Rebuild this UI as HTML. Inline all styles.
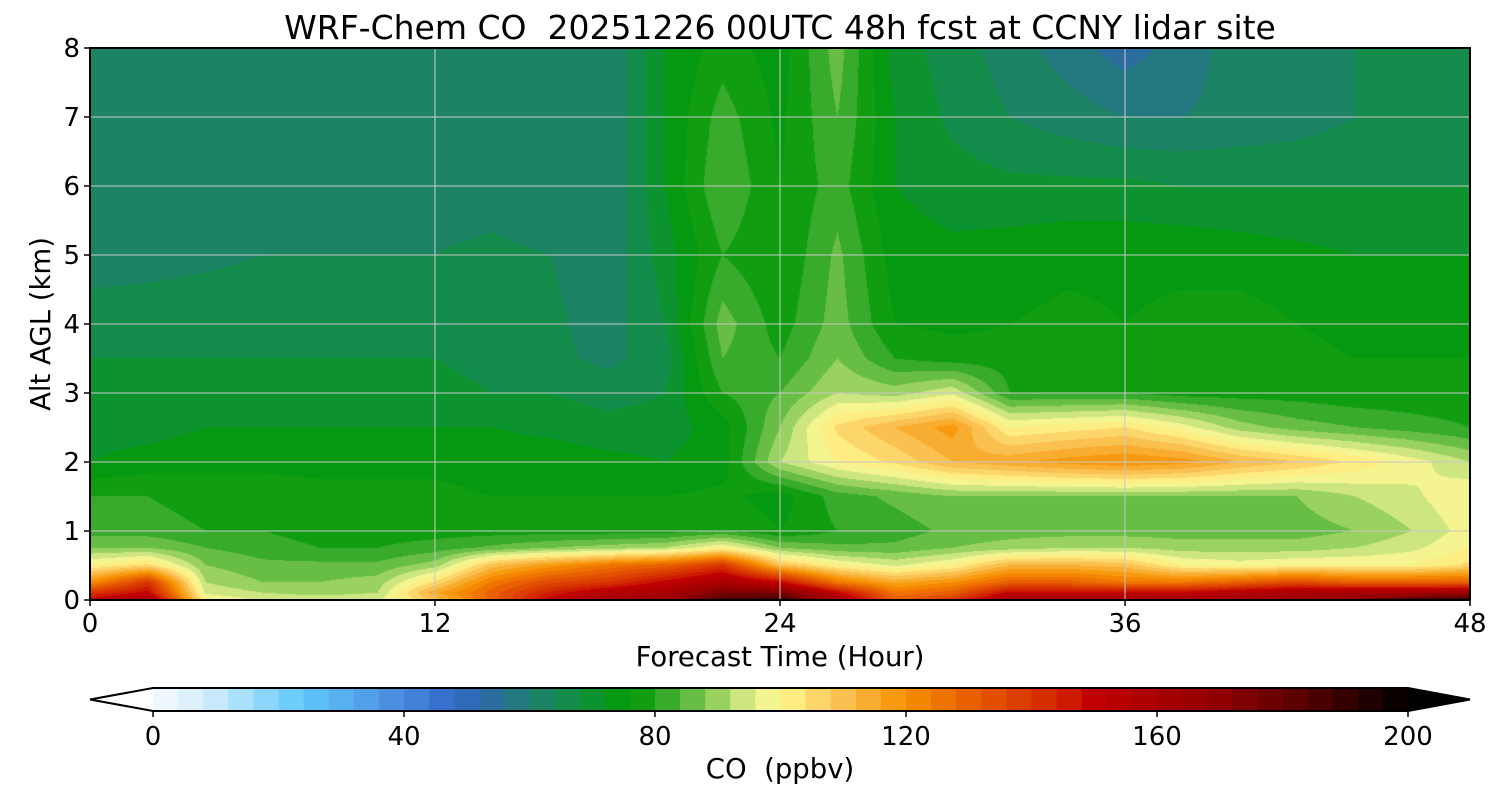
<!DOCTYPE html>
<html><head><meta charset="utf-8"><style>
body{margin:0;background:#fff;width:1500px;height:800px;overflow:hidden;font-family:"DejaVu Sans","Liberation Sans",sans-serif;}
.t{position:absolute;color:#000;white-space:nowrap;}
svg text{font-family:"DejaVu Sans","Liberation Sans",sans-serif;}
</style></head><body>
<div class="t" style="left:0;width:1560px;text-align:center;top:8px;font-size:33px;">WRF-Chem CO&nbsp; 20251226 00UTC 48h fcst at CCNY lidar site</div>
<canvas id="cv" width="1380" height="552" style="position:absolute;left:90px;top:48px;"></canvas>
<svg id="sv" width="1500" height="800" style="position:absolute;left:0;top:0;"></svg>
<script>
const hours=[0,2,4,6,8,10,12,14,16,18,20,22,24,26,28,30,32,34,36,38,40,42,44,46,48];
const heights=[0,0.1,0.25,0.5,0.75,1,1.5,2,2.5,3,3.5,4,5,6,7,8];
const co=[
[150,160,100,95,95,95,110,130,150,160,165,185,190,160,130,140,160,160,160,160,160,165,170,185,190],
[140,150,95,92,90,92,115,130,145,155,160,175,175,150,125,130,150,150,150,150,155,160,160,160,165],
[120,140,92,88,88,90,105,125,135,140,150,160,150,125,115,120,130,130,125,125,130,135,130,130,130],
[100,105,88,85,85,85,90,110,118,125,130,140,110,100,95,100,112,112,110,100,98,100,100,100,105],
[88,88,84,82,80,80,82,85,88,90,92,100,88,85,85,88,90,92,92,90,90,90,92,95,100],
[82,82,80,80,78,78,78,78,78,78,78,80,76,80,82,85,86,86,86,86,86,86,88,92,98],
[80,80,78,78,77,77,77,76,76,76,76,77,74,82,85,88,88,88,88,88,88,88,92,95,100],
[72,74,75,75,75,75,75,74,74,73,72,74,92,100,105,112,115,118,120,118,112,108,103,98,92],
[70,70,72,72,72,72,72,72,71,70,70,74,88,105,112,118,100,102,104,98,90,86,84,82,80],
[69,69,69,69,69,69,69,68,68,66,68,80,84,92,90,95,80,80,80,78,78,78,77,77,77],
[68,68,68,68,68,68,68,67,65,63,66,84,80,88,80,78,78,77,77,77,77,77,76,76,76],
[66,67,67,67,67,67,67,66,65,62,68,86,78,86,76,75,76,77,76,77,78,76,75,75,75],
[62,62,63,64,64,64,64,65,64,61,70,80,76,85,74,73,74,75,75,75,74,73,72,72,72],
[60,60,60,61,62,62,62,62,60,60,72,84,76,82,72,70,69,69,69,68,68,68,68,68,68],
[61,61,61,62,62,62,62,62,61,60,72,82,75,84,72,67,64,62,60,60,61,62,64,64,64],
[62,62,61,62,62,62,62,62,60,60,72,78,74,86,70,66,62,58,54,58,62,62,64,64,64]];
const xTicks=[0,12,24,36,48];
const yTicks=[0,1,2,3,4,5,6,7,8];
const cbTicks=[0,40,80,120,160,200];
const anchors=[[0,[246,250,255]],[8,[212,238,252]],[24,[96,200,252]],[40,[72,136,220]],[48,[52,104,200]],[56,[40,112,144]],[60,[32,128,112]],[68,[16,144,64]],[76,[0,156,0]],[80,[32,160,32]],[88,[128,200,80]],[96,[232,240,144]],[100,[255,248,144]],[110,[250,192,80]],[120,[248,144,0]],[130,[232,96,0]],[145,[208,32,0]],[150,[192,0,0]],[170,[144,0,0]],[185,[80,0,0]],[200,[0,0,0]]];
function cmap(v){v=Math.max(0,Math.min(200,v));for(let i=1;i<anchors.length;i++){if(v<=anchors[i][0]){const a=anchors[i-1],b=anchors[i],t=(v-a[0])/(b[0]-a[0]);return a[1].map((c,k)=>Math.round(c+(b[1][k]-c)*t));}}return [0,0,0];}
function lvl(v){const l=Math.floor(v/4)*4+2;return cmap(l);}
const X0=90,X1=1470,Y0=600,Y1=48;
const xs=h=>X0+(h-0)/48*(X1-X0), ys=k=>Y0-k/8*(Y0-Y1);
function sample(h,k){let i=0;while(i<hours.length-2&&h>hours[i+1])i++;let j=0;while(j<heights.length-2&&k>heights[j+1])j++;
const tx=(h-hours[i])/(hours[i+1]-hours[i]),ty=(k-heights[j])/(heights[j+1]-heights[j]);
const a=co[j][i],b=co[j][i+1],c=co[j+1][i],d=co[j+1][i+1];return (a*(1-tx)+b*tx)*(1-ty)+(c*(1-tx)+d*tx)*ty;}
const cv=document.getElementById('cv'),ctx=cv.getContext('2d'),W=cv.width,H=cv.height,img=ctx.createImageData(W,H);
for(let y=0;y<H;y++){const k=(H-1-y)/(H-1)*8;for(let x=0;x<W;x++){const h=x/(W-1)*48;const c=lvl(sample(h,k));const p=(y*W+x)*4;img.data[p]=c[0];img.data[p+1]=c[1];img.data[p+2]=c[2];img.data[p+3]=255;}}
ctx.putImageData(img,0,0);
const sv=document.getElementById('sv'),NS='http://www.w3.org/2000/svg';
function el(t,a,txt){const e=document.createElementNS(NS,t);for(const k in a)e.setAttribute(k,a[k]);if(txt!==undefined)e.textContent=txt;sv.appendChild(e);return e;}
xTicks.forEach(v=>{const x=xs(v);
const g=el('line',{x1:x,x2:x,y1:Y1,y2:Y0,stroke:'#c8c8c8','stroke-width':1});


const tk=el('line',{x1:x,x2:x,y1:Y0,y2:Y0+6,stroke:'#000','stroke-width':1.5});


const l=el('text',{x:x,y:Y0+32,'font-size':26,'text-anchor':'middle'},String(v));

});
yTicks.forEach(v=>{const y=ys(v);
const g=el('line',{x1:X0,x2:X1,y1:y,y2:y,stroke:'#c8c8c8','stroke-width':1});


const tk=el('line',{x1:X0-6,x2:X0,y1:y,y2:y,stroke:'#000','stroke-width':1.5});


const l=el('text',{x:X0-10,y:y+9,'font-size':26,'text-anchor':'end'},String(v));

});
const fr=el('rect',{x:X0,y:Y1,width:X1-X0,height:Y0-Y1,fill:'none',stroke:'#000','stroke-width':2});


const xl=el('text',{x:780,y:666,'font-size':27.5,'text-anchor':'middle'},'Forecast Time (Hour)');


const yl=el('text',{x:50,y:324,'font-size':27.5,'text-anchor':'middle',transform:'rotate(-90 50 324)'},'Alt AGL (km)');


const C0=153,C1=1408,CT=688,CB=711,cx=v=>C0+v/200*(C1-C0);
for(let v=0;v<200;v+=4){const c=lvl(v+0.01);const r=el('rect',{x:cx(v),y:CT,width:cx(v+4)-cx(v)+0.6,height:CB-CT,fill:`rgb(${c})`});

}
const lt=el('polygon',{points:`${C0},${CT} 90,${(CT+CB)/2} ${C0},${CB}`,fill:'#fff',stroke:'none'});


const rt=el('polygon',{points:`${C1},${CT} 1470,${(CT+CB)/2} ${C1},${CB}`,fill:'#000'});


const ob=el('polygon',{points:`90,${(CT+CB)/2} ${C0},${CT} ${C1},${CT} 1470,${(CT+CB)/2} ${C1},${CB} ${C0},${CB}`,fill:'none',stroke:'#000','stroke-width':2});


cbTicks.forEach(v=>{const x=cx(v);
const tk=el('line',{x1:x,x2:x,y1:CB,y2:CB+6,stroke:'#000','stroke-width':1.5});


const l=el('text',{x:x,y:745,'font-size':26,'text-anchor':'middle'},String(v));

});
const cl=el('text',{x:780,y:778,'font-size':27.5,'text-anchor':'middle'},'CO\u00a0 (ppbv)');


</script>
</body></html>
